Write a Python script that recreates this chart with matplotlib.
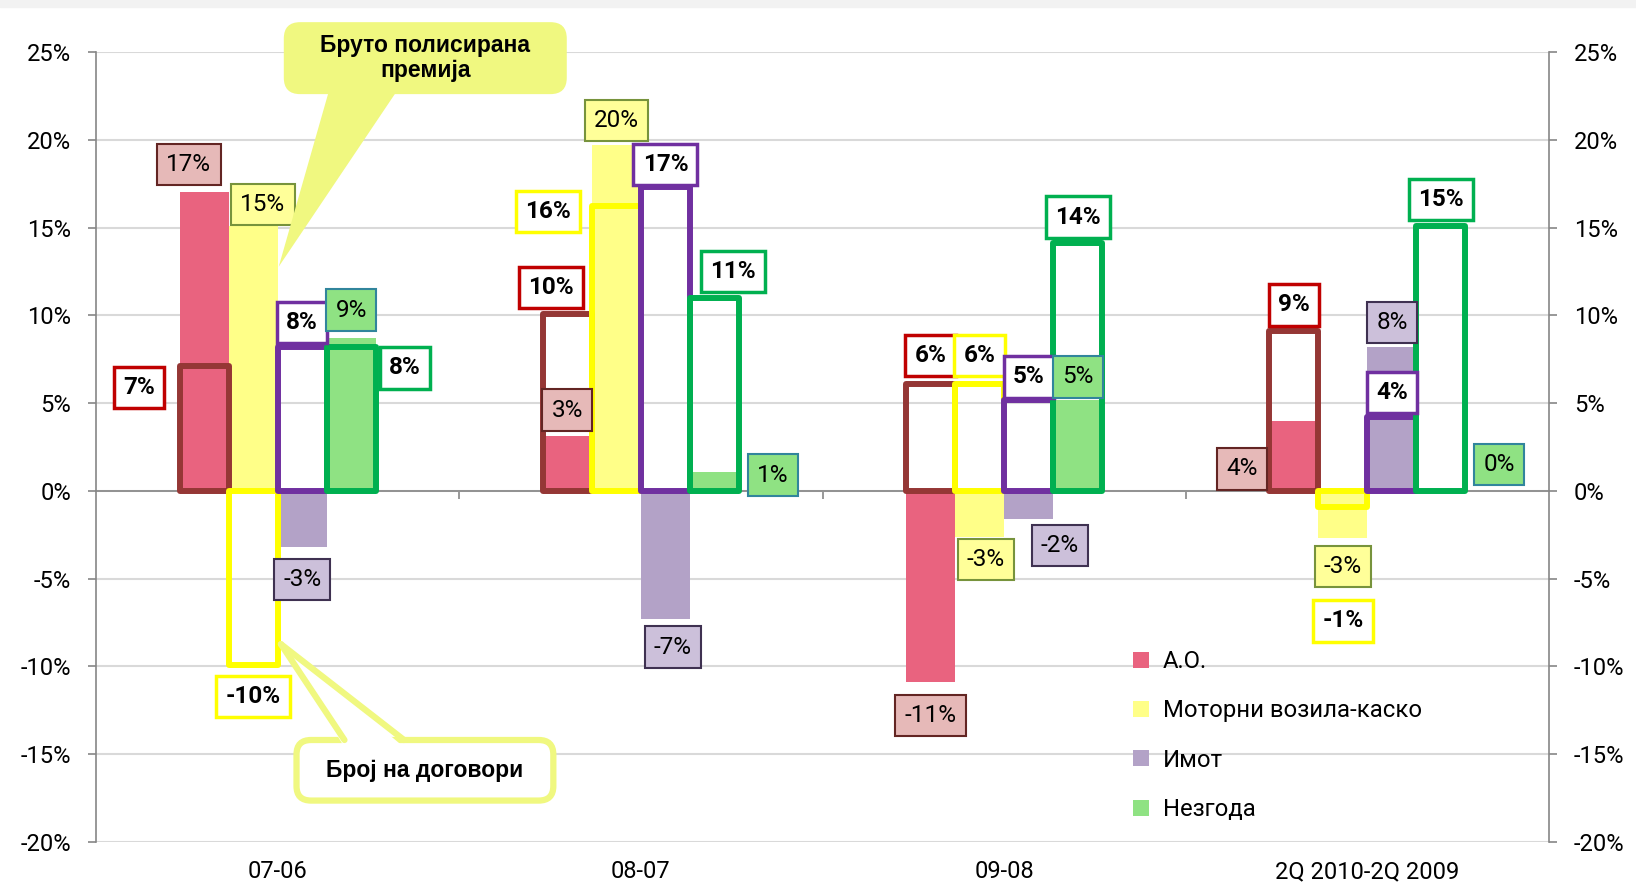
import matplotlib
matplotlib.use("Agg")
import matplotlib.pyplot as plt
from matplotlib.patches import FancyBboxPatch, Polygon, Rectangle, Patch
from matplotlib.lines import Line2D
from matplotlib.ticker import FuncFormatter, FixedLocator

plt.rcParams['font.family'] = ['Roboto', 'DejaVu Sans']

categories = ["07-06", "08-07", "09-08", "2Q 2010-2Q 2009"]
series = ["А.О.", "Моторни возила-каско", "Имот", "Незгода"]

# growth of gross written premium (filled bars), %
premium_ao = [17.0, 3.1, -10.9, 4.0]
premium_kasko = [15.1, 19.7, -2.6, -2.7]
premium_imot = [-3.2, -7.3, -1.6, 8.2]
premium_nezgoda = [8.7, 1.1, 5.2, 0.1]

# growth of number of contracts (outlined bars), %
contracts_ao = [7.1, 10.1, 6.1, 9.1]
contracts_kasko = [-9.9, 16.2, 6.1, -0.9]
contracts_imot = [8.2, 17.3, 5.2, 4.2]
contracts_nezgoda = [8.2, 11.0, 14.1, 15.1]

premium = [premium_ao, premium_kasko, premium_imot, premium_nezgoda]
contracts = [contracts_ao, contracts_kasko, contracts_imot, contracts_nezgoda]

# colours
fill_colors = ["#E9637F", "#FFFF88", "#B3A2C7", "#8FE283"]
outline_colors = ["#953735", "#FFFF00", "#7030A0", "#00B050"]
plabel_face = ["#E6B9B8", "#FFFF99", "#CCC0DA", "#8FE283"]
plabel_edge = ["#632523", "#77933C", "#3F3151", "#31859C"]
clabel_edge = ["#C00000", "#FFFF00", "#7030A0", "#00B050"]
callout_color = "#F0F880"

# label placement (dx in bar widths, y in %), manually moved like in the original
premium_label_dx = [[-0.31, 0, 0, -1.06], [0.2, 0, 0.13, 0],
                    [0, 0.15, 0.64, 0], [0, 1.19, 0, 1.19]]
premium_label_y = [[18.6, 4.6, -12.8, 1.25], [16.3, 21.1, -3.9, -4.3],
                   [-5.05, -8.9, -3.1, 9.6], [10.3, 0.9, 6.5, 1.5]]
contract_label_dx = [[-1.32, -0.34, 0, 0], [0, -1.4, 0, 0],
                     [0, 0, 0, 0], [1.1, 0.38, 0, 0]]
contract_label_y = [[5.9, 11.6, 7.7, 10.6], [-11.7, 15.9, 7.7, -7.4],
                    [9.6, 18.6, 6.5, 5.6], [7.0, 12.5, 15.6, 16.6]]

W, H = 1636, 892
fig = plt.figure(figsize=(W / 100, H / 100), dpi=100)
fig.add_artist(Rectangle((0, 1 - 7 / H), 1, 7 / H, transform=fig.transFigure,
                         color="#F2F2F2", zorder=0))
ax = fig.add_axes([96 / W, 1 - 842 / H, (1549 - 96) / W, (842 - 52) / H])

bw = 0.135
x = list(range(len(categories)))

for i in range(4):
    xs = [c + (i - 1.5) * bw for c in x]
    ax.bar(xs, premium[i], width=bw, color=fill_colors[i], zorder=3)
for i in range(4):
    xs = [c + (i - 1.5) * bw for c in x]
    ax.bar(xs, contracts[i], width=bw, facecolor="none", edgecolor=outline_colors[i],
           linewidth=4.3, joinstyle="round", zorder=4)

for i in range(4):
    for c in x:
        bx = c + (i - 1.5) * bw
        v = premium[i][c]
        ax.text(bx + premium_label_dx[i][c] * bw, premium_label_y[i][c], f"{v:.0f}%",
                ha="center", va="center", fontsize=17.5, zorder=6,
                bbox=dict(boxstyle="square,pad=0.38", fc=plabel_face[i],
                          ec=plabel_edge[i], lw=1.5))
        v = contracts[i][c]
        ax.text(bx + contract_label_dx[i][c] * bw, contract_label_y[i][c], f"{v:.0f}%",
                ha="center", va="center", fontsize=17.5, fontweight="bold", zorder=6,
                bbox=dict(boxstyle="square,pad=0.38", fc="white",
                          ec=clabel_edge[i], lw=2.5))

ax.set_xlim(-0.5, 3.5)
ax.set_ylim(-20, 25)
yt = list(range(-20, 26, 5))
pct = FuncFormatter(lambda v, p: f"{v:.0f}%")
ax.set_yticks(yt)
ax.yaxis.set_major_formatter(pct)
ax.yaxis.grid(True, color="#D9D9D9", linewidth=1.5)
ax.set_axisbelow(True)

for s in ["top", "right"]:
    ax.spines[s].set_visible(False)
ax.spines["left"].set_color("#868686")
ax.spines["left"].set_linewidth(1.2)
ax.spines["bottom"].set_position(("data", 0))
ax.spines["bottom"].set_color("#868686")
ax.spines["bottom"].set_linewidth(1.2)
ax.spines["bottom"].set_zorder(2)

ax.set_xticks(x)
ax.set_xticklabels(categories)
ax.xaxis.set_minor_locator(FixedLocator([0.5, 1.5, 2.5]))
ax.tick_params(axis="x", which="major", length=0, pad=266, labelsize=17)
ax.tick_params(axis="x", which="minor", length=6, color="#868686", width=1.2)
ax.tick_params(axis="y", length=6, color="#868686", width=1.2, pad=12, labelsize=17)

ax2 = ax.twinx()
ax2.set_ylim(-20, 25)
ax2.set_yticks(yt)
ax2.yaxis.set_major_formatter(pct)
for s in ["top", "left", "bottom"]:
    ax2.spines[s].set_visible(False)
ax2.spines["right"].set_color("#868686")
ax2.spines["right"].set_linewidth(1.2)
ax2.tick_params(axis="y", length=6, color="#868686", width=1.2, pad=12, labelsize=17)

# legend for the filled series
handles = [Patch(facecolor=fill_colors[i], edgecolor="none", label=series[i]) for i in range(4)]
ax.legend(handles=handles, loc="upper left", bbox_to_anchor=(0.699, 0.27),
          frameon=False, fontsize=17.2, handlelength=0.65, handleheight=0.65,
          handletextpad=0.6, labelspacing=1.1)

# callouts (data coords, rounded corners corrected for aspect)
aspect = (1453 / 4) / (790 / 45)

wedge1 = Polygon([(0.003, 12.77), (0.147, 23.2), (0.342, 23.2)], closed=True,
                 fc=callout_color, ec="none", zorder=7, clip_on=False)
ax.add_patch(wedge1)
box1 = FancyBboxPatch((0.017, 22.6), 0.779, 4.1, boxstyle="round,pad=0,rounding_size=0.045",
                      mutation_aspect=aspect, fc=callout_color, ec="none", zorder=7, clip_on=False)
ax.add_patch(box1)
ax.text(0.4065, 24.65, "Бруто полисирана\nпремија", ha="center", va="center",
        fontsize=16.5, fontweight="bold", family=["Liberation Sans", "DejaVu Sans"],
        linespacing=1.1, zorder=8, clip_on=False)

box2 = FancyBboxPatch((0.052, -17.64), 0.707, 3.45, boxstyle="round,pad=0,rounding_size=0.04",
                      mutation_aspect=aspect, fc="white", ec=callout_color, lw=4.5, zorder=7)
ax.add_patch(box2)
ax.add_patch(Polygon([(0.009, -8.73), (0.184, -14.6), (0.348, -14.6)], closed=True,
                     fc="white", ec="none", zorder=7.5))
for bxp in [0.184, 0.348]:
    ax.add_line(Line2D([0.009, bxp], [-8.73, -14.19], color=callout_color, lw=4.5,
                       solid_capstyle="round", zorder=7.6))
ax.text(0.4055, -15.9, "Број на договори", ha="center", va="center",
        fontsize=16.5, fontweight="bold", family=["Liberation Sans", "DejaVu Sans"], zorder=8)

fig.savefig("out.png", dpi=100, facecolor="white")
